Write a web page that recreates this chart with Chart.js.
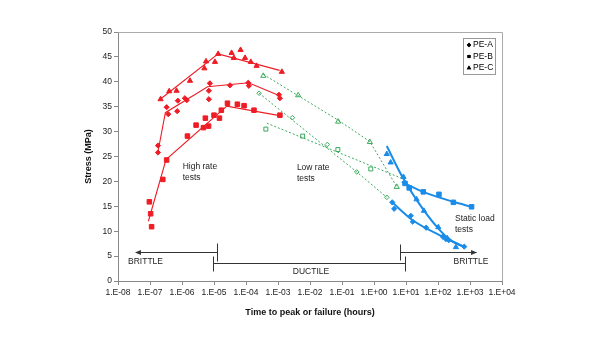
<!DOCTYPE html>
<html lang="en">
<head>
<meta charset="UTF-8">
<title>Stress vs time to failure</title>
<script src="https://cdn.jsdelivr.net/npm/chart.js"></script>
<style>
  html, body { margin: 0; background: #fff; }
  #wrap { width: 600px; height: 337px; }
</style>
</head>
<body>
<div id="wrap"><canvas id="stressChart"></canvas></div>
<script>
// time values are log10(hours), stress in MPa

// high rate tests
const hiA_logT   = [-6.75, -6.75, -6.48, -6.43, -6.15, -6.13, -5.91, -5.85, -5.13, -5.16, -5.16, -4.50, -3.93, -3.91, -2.97, -2.94];
const hiA_stress = [27.2, 25.8, 34.9, 33.5, 34.1, 36.2, 36.7, 36.3, 39.7, 38.2, 36.5, 39.3, 39.8, 39.2, 37.4, 36.7];
const hiB_logT   = [-7.02, -6.98, -6.95, -6.60, -6.48, -5.83, -5.56, -5.33, -5.27, -5.17, -5.00, -4.83, -4.77, -4.58, -4.27, -4.06, -3.75, -2.94];
const hiB_stress = [15.9, 13.5, 10.9, 20.4, 24.3, 29.1, 31.3, 30.8, 32.7, 31.1, 33.3, 32.7, 34.3, 35.7, 35.5, 35.2, 34.3, 33.3];
const hiC_logT   = [-6.67, -6.40, -6.17, -5.75, -5.30, -5.25, -4.97, -4.87, -4.45, -4.38, -4.17, -4.03, -3.85, -3.67, -2.88];
const hiC_stress = [36.5, 38.1, 38.2, 40.2, 42.7, 44.1, 44.0, 45.6, 45.8, 44.8, 46.4, 44.8, 44.0, 43.2, 42.0];

// high rate trend lines
const hiA_fitLogT = [-6.75, -6.52, -5.20, -3.92, -2.95];
const hiA_fitStress = [26.0, 33.8, 39.0, 39.8, 37.2];
const hiB_fitLogT = [-7.05, -6.50, -4.60, -2.95];
const hiB_fitStress = [12.0, 24.4, 35.1, 33.2];
const hiC_fitLogT = [-6.70, -4.87, -2.95];
const hiC_fitStress = [36.4, 45.6, 42.3];

// low rate tests
const loA_logT   = [-3.59, -2.55, -1.46, -0.54, 0.40];
const loA_stress = [37.7, 32.8, 27.4, 21.9, 16.8];
const loB_logT   = [-3.38, -2.23, -1.13, -0.10];
const loB_stress = [30.5, 29.1, 26.4, 22.5];
const loC_logT   = [-3.46, -2.37, -1.12, -0.13, 0.71];
const loC_stress = [41.2, 37.3, 32.0, 27.9, 18.9];

// low rate trend lines
const loA_fitLogT = [-3.59, -0.54, 0.40];
const loA_fitStress = [37.7, 21.9, 16.8];
const loB_fitLogT = [-3.35, 0.87];
const loB_fitStress = [31.7, 20.6];
const loC_fitLogT = [-3.46, -1.12, -0.13, 0.75];
const loC_fitStress = [41.5, 32.3, 28.0, 18.5];

// static load tests
const stA_logT   = [0.57, 0.63, 1.15, 1.21, 1.63, 2.15, 2.25, 2.34, 2.82];
const stA_stress = [15.8, 14.5, 13.1, 11.9, 10.7, 8.9, 8.4, 8.2, 6.9];
const stB_logT   = [0.97, 1.10, 1.54, 2.03, 2.48, 3.05];
const stB_stress = [19.6, 18.7, 17.9, 17.4, 15.8, 14.9];
const stC_logT   = [0.40, 0.52, 0.92, 1.33, 1.56, 2.01, 2.29, 2.56];
const stC_stress = [25.5, 23.8, 20.9, 16.4, 14.1, 10.8, 8.6, 6.8];

// static load fitted curves
const stA_fitLogT = [0.55, 1.21, 2.15, 2.82];
const stA_fitStress = [15.9, 12.2, 8.9, 6.9];
const stB_fitLogT = [0.87, 1.54, 2.48, 3.05];
const stB_fitStress = [19.9, 17.9, 15.9, 14.9];
const stC_fitLogT = [0.40, 0.87, 1.33, 1.96, 2.38, 2.79];
const stC_fitStress = [27.1, 21.1, 16.3, 10.9, 8.2, 6.9];

const decades = [-8, -7, -6, -5, -4, -3, -2, -1, 0, 1, 2, 3, 4];
const legendNames = ['PE-A', 'PE-B', 'PE-C'];

const RED = '#ee1c25', GREEN = '#3aaa5c', BLUE = '#1a8ce8';

function pts(logT, stress) {
  return logT.map((t, i) => ({ x: Math.pow(10, t), y: stress[i] }));
}

function markers(logT, stress, color, style, r, hollow) {
  return {
    data: pts(logT, stress),
    showLine: false,
    pointStyle: style,
    pointRadius: r,
    pointHoverRadius: r,
    pointBorderWidth: 1,
    pointBorderColor: color,
    pointBackgroundColor: hollow ? '#fff' : color
  };
}

function fit(logT, stress, color, width, dash, curved) {
  return {
    data: pts(logT, stress),
    showLine: true,
    pointRadius: 0,
    borderColor: color,
    borderWidth: width,
    borderDash: dash || [],
    cubicInterpolationMode: curved ? 'monotone' : 'default',
    tension: 0
  };
}

function fmtDecade(v) {
  const e = Math.round(Math.log10(v));
  return '1.E' + (e < 0 ? '-' : '+') + String(Math.abs(e)).padStart(2, '0');
}

// labels in data units (log10 hours, MPa)
const notes = [
  ['BRITTLE', -7.14, 3.8, 'center'],
  ['DUCTILE', -1.97, 1.8, 'center'],
  ['BRITTLE', 3.03, 3.8, 'center'],
  ['High rate', -5.98, 22.9, 'left'],
  ['tests', -5.98, 20.7, 'left'],
  ['Low rate', -2.41, 22.8, 'left'],
  ['tests', -2.41, 20.6, 'left'],
  ['Static load', 2.53, 12.6, 'left'],
  ['tests', 2.53, 10.4, 'left']
];

const overlay = {
  id: 'overlay',
  afterDraw(chart) {
    const { ctx, chartArea: a, scales: { x, y } } = chart;
    const px = t => x.getPixelForValue(Math.pow(10, t));
    const py = s => y.getPixelForValue(s);
    ctx.save();

    // frame on top and right
    ctx.strokeStyle = '#aaa';
    ctx.lineWidth = 1;
    ctx.beginPath();
    ctx.moveTo(a.left, a.top + 0.5);
    ctx.lineTo(a.right + 0.5, a.top + 0.5);
    ctx.lineTo(a.right + 0.5, a.bottom);
    ctx.stroke();

    // range bars
    ctx.strokeStyle = '#333';
    const seg = (t1, s1, t2, s2) => {
      ctx.beginPath();
      ctx.moveTo(Math.round(px(t1)) + 0.5, Math.round(py(s1)) + 0.5);
      ctx.lineTo(Math.round(px(t2)) + 0.5, Math.round(py(s2)) + 0.5);
      ctx.stroke();
    };
    const head = (t, s, dir) => {
      const hx = px(t), hy = Math.round(py(s)) + 0.5;
      ctx.fillStyle = '#333';
      ctx.beginPath();
      ctx.moveTo(hx, hy);
      ctx.lineTo(hx - dir * 6, hy - 2.5);
      ctx.lineTo(hx - dir * 6, hy + 2.5);
      ctx.closePath();
      ctx.fill();
    };
    // brittle, high rate side
    seg(-4.91, 5.9, -7.45, 5.9);
    seg(-4.91, 4.0, -4.91, 7.6);
    head(-7.47, 5.9, -1);
    // ductile
    seg(-5.03, 3.7, 0.97, 3.7);
    seg(-5.03, 2.0, -5.03, 5.0);
    seg(0.97, 2.0, 0.97, 5.0);
    // brittle, static side
    seg(0.81, 5.9, 3.2, 5.9);
    seg(0.81, 4.2, 0.81, 7.4);
    head(3.22, 5.9, 1);

    ctx.fillStyle = '#222';
    ctx.font = '8.5px "Liberation Sans", Arial, sans-serif';
    ctx.textBaseline = 'middle';
    notes.forEach(([txt, t, s, al]) => {
      ctx.textAlign = al;
      ctx.fillText(txt, px(t), py(s));
    });

    // legend box
    const lx = a.right - 39, ly = a.top + 6, lw = 32, lh = 36;
    ctx.strokeStyle = '#999';
    ctx.strokeRect(lx + 0.5, ly + 0.5, lw, lh);
    ctx.fillStyle = '#000';
    ctx.textAlign = 'left';
    const shapes = ['rectRot', 'rect', 'triangle'];
    legendNames.forEach((name, i) => {
      const cy = ly + 7 + i * 11.5;
      Chart.helpers.drawPoint(ctx, { pointStyle: shapes[i], radius: i === 2 ? 2.6 : 2.2, borderWidth: 0 }, lx + 6, cy);
      ctx.fill();
      ctx.fillText(name, lx + 10, cy);
    });
    ctx.restore();
  }
};

new Chart(document.getElementById('stressChart'), {
  type: 'scatter',
  data: {
    datasets: [
      fit(hiA_fitLogT, hiA_fitStress, RED, 1.1),
      fit(hiB_fitLogT, hiB_fitStress, RED, 1.1),
      fit(hiC_fitLogT, hiC_fitStress, RED, 1.1),
      fit(loA_fitLogT, loA_fitStress, GREEN, 1, [2, 2]),
      fit(loB_fitLogT, loB_fitStress, GREEN, 1, [2, 2]),
      fit(loC_fitLogT, loC_fitStress, GREEN, 1, [2, 2]),
      fit(stA_fitLogT, stA_fitStress, BLUE, 2, null, true),
      fit(stB_fitLogT, stB_fitStress, BLUE, 2, null, true),
      fit(stC_fitLogT, stC_fitStress, BLUE, 2, null, true),
      markers(hiA_logT, hiA_stress, RED, 'rectRot', 2.6),
      markers(hiB_logT, hiB_stress, RED, 'rect', 3.2),
      markers(hiC_logT, hiC_stress, RED, 'triangle', 3.0),
      markers(loA_logT, loA_stress, GREEN, 'rectRot', 2.3, true),
      markers(loB_logT, loB_stress, GREEN, 'rect', 2.8, true),
      markers(loC_logT, loC_stress, GREEN, 'triangle', 3.0, true),
      markers(stA_logT, stA_stress, BLUE, 'rectRot', 2.6),
      markers(stB_logT, stB_stress, BLUE, 'rect', 3.2),
      markers(stC_logT, stC_stress, BLUE, 'triangle', 3.0)
    ]
  },
  options: {
    responsive: true,
    maintainAspectRatio: false,
    animation: false,
    layout: { padding: { left: 0, right: 98, top: 32, bottom: 0 } },
    plugins: { legend: { display: false }, tooltip: { enabled: false } },
    scales: {
      x: {
        type: 'logarithmic',
        min: 1e-8,
        max: 1e4,
        afterBuildTicks: s => { s.ticks = decades.map(e => ({ value: Math.pow(10, e) })); },
        afterFit: s => { s.height = 56; },
        ticks: {
          autoSkip: false,
          maxRotation: 0,
          padding: 3,
          color: '#222',
          font: { family: '"Liberation Sans", Arial, sans-serif', size: 8.5 },
          callback: v => fmtDecade(v)
        },
        grid: { drawOnChartArea: false, drawTicks: true, tickLength: 4, color: '#888' },
        border: { display: true, color: '#888' },
        title: {
          display: true,
          text: 'Time to peak or failure (hours)',
          color: '#111',
          font: { family: '"Liberation Sans", Arial, sans-serif', size: 9, weight: 'bold' },
          padding: { top: 0, bottom: 19 }
        }
      },
      y: {
        min: 0,
        max: 50,
        afterFit: s => { s.width = 118; },
        ticks: {
          stepSize: 5,
          padding: 2,
          color: '#222',
          font: { family: '"Liberation Sans", Arial, sans-serif', size: 8.5 }
        },
        grid: { drawOnChartArea: false, drawTicks: true, tickLength: 4, color: '#888' },
        border: { display: true, color: '#888' },
        title: {
          display: true,
          text: 'Stress (MPa)',
          color: '#111',
          font: { family: '"Liberation Sans", Arial, sans-serif', size: 9, weight: 'bold' },
          padding: { top: 83, bottom: 0 }
        }
      }
    }
  },
  plugins: [overlay]
});
</script>
</body>
</html>
